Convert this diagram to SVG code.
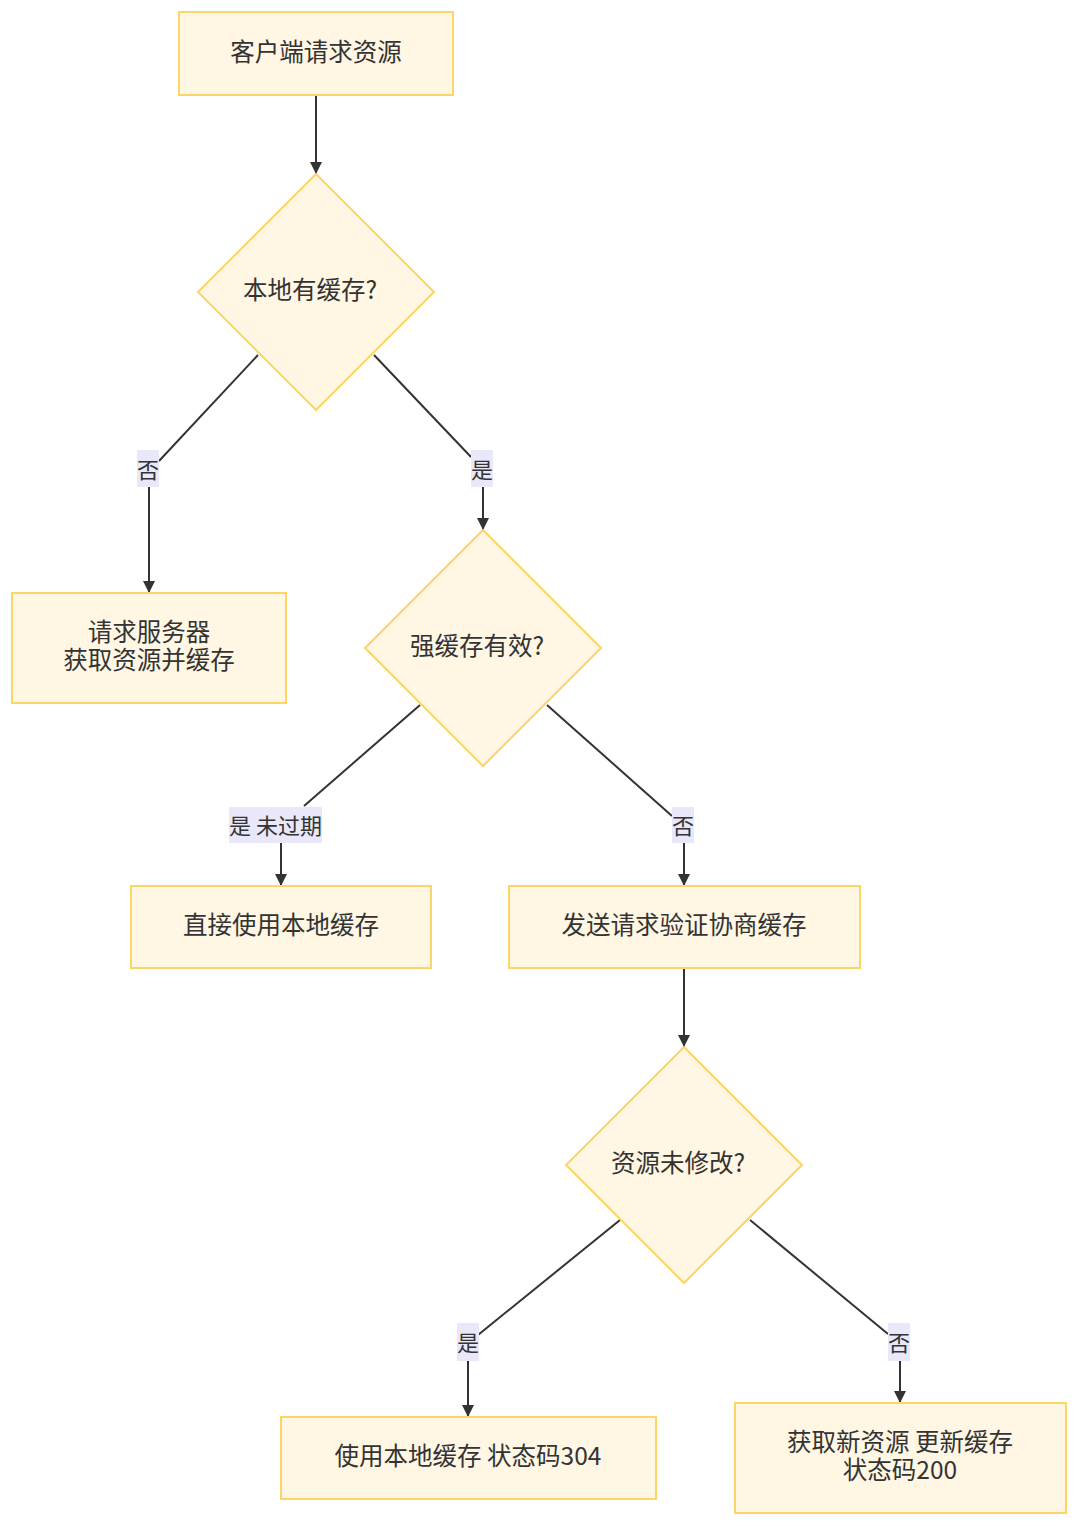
<svg xmlns="http://www.w3.org/2000/svg" width="1080" height="1526" viewBox="0 0 1080 1526">
<style>
.node{fill:#fff6e3;stroke:#fcd467;stroke-width:2}
.t{font-family:"Noto Sans CJK SC","Noto Sans",sans-serif;font-size:24.5px;fill:#333;text-anchor:middle;dominant-baseline:central}
.lt{font-family:"Noto Sans CJK SC","Noto Sans",sans-serif;font-size:22px;fill:#333;text-anchor:middle;dominant-baseline:central}
.e{fill:none;stroke:#333;stroke-width:2}
.lb{fill:#e8e8fa}
</style>
<defs>
<marker id="arr" viewBox="0 0 12 12" refX="12" refY="6" markerWidth="12" markerHeight="12" markerUnits="userSpaceOnUse" orient="auto">
<path d="M0,0 L12,6 L0,12 z" fill="#333"/>
</marker>
</defs>
<g id="connectors">
<path class="e" d="M316,95 L316,174" marker-end="url(#arr)"/>
<path class="e" d="M258,355 L159,461"/>
<path class="e" d="M149,487 L149,593" marker-end="url(#arr)"/>
<path class="e" d="M374,355 L471,457"/>
<path class="e" d="M483,487 L483,530" marker-end="url(#arr)"/>
<path class="e" d="M420,705 L304,806"/>
<path class="e" d="M281,843 L281,886" marker-end="url(#arr)"/>
<path class="e" d="M547,705 L672,816"/>
<path class="e" d="M684,843 L684,886" marker-end="url(#arr)"/>
<path class="e" d="M684,968 L684,1047" marker-end="url(#arr)"/>
<path class="e" d="M620,1220 L478,1335"/>
<path class="e" d="M468,1361 L468,1417" marker-end="url(#arr)"/>
<path class="e" d="M750,1220 L888,1334"/>
<path class="e" d="M900,1361 L900,1403" marker-end="url(#arr)"/>
<g id="labels">
<rect class="lb" x="137" y="450" width="22" height="37"/>
<text class="lt" x="148" y="468">否</text>
<rect class="lb" x="471" y="450" width="22" height="37"/>
<text class="lt" x="482" y="468">是</text>
<rect class="lb" x="229" y="807" width="93" height="36"/>
<text class="lt" x="275.5" y="824">是 未过期</text>
<rect class="lb" x="672" y="807" width="22" height="36"/>
<text class="lt" x="683" y="824">否</text>
<rect class="lb" x="457" y="1323" width="22" height="38"/>
<text class="lt" x="468" y="1341">是</text>
<rect class="lb" x="888" y="1323" width="22" height="38"/>
<text class="lt" x="899" y="1341">否</text>
</g>
</g>
<g id="n1">
<rect class="node" x="179" y="12" width="274" height="83"/>
<text class="t" x="316" y="50">客户端请求资源</text>
</g>
<g id="d1">
<polygon class="node" points="316,174 434,292 316,410 198,292"/>
<text class="t" x="310" y="288">本地有缓存?</text>
</g>
<g id="n2">
<rect class="node" x="12" y="593" width="274" height="110"/>
<text class="t" x="149" y="630">请求服务器</text>
<text class="t" x="149" y="658">获取资源并缓存</text>
</g>
<g id="d2">
<polygon class="node" points="483,530 601,648 483,766 365,648"/>
<text class="t" x="477" y="644">强缓存有效?</text>
</g>
<g id="n3">
<rect class="node" x="131" y="886" width="300" height="82"/>
<text class="t" x="281" y="923">直接使用本地缓存</text>
</g>
<g id="n4">
<rect class="node" x="509" y="886" width="351" height="82"/>
<text class="t" x="684" y="923">发送请求验证协商缓存</text>
</g>
<g id="d3">
<polygon class="node" points="684,1047 802,1165 684,1283 566,1165"/>
<text class="t" x="678" y="1161">资源未修改?</text>
</g>
<g id="n5">
<rect class="node" x="281" y="1417" width="375" height="82"/>
<text class="t" x="468" y="1454">使用本地缓存 状态码304</text>
</g>
<g id="n6">
<rect class="node" x="735" y="1403" width="331" height="110"/>
<text class="t" x="900" y="1440">获取新资源 更新缓存</text>
<text class="t" x="900" y="1468">状态码200</text>
</g>
</svg>
